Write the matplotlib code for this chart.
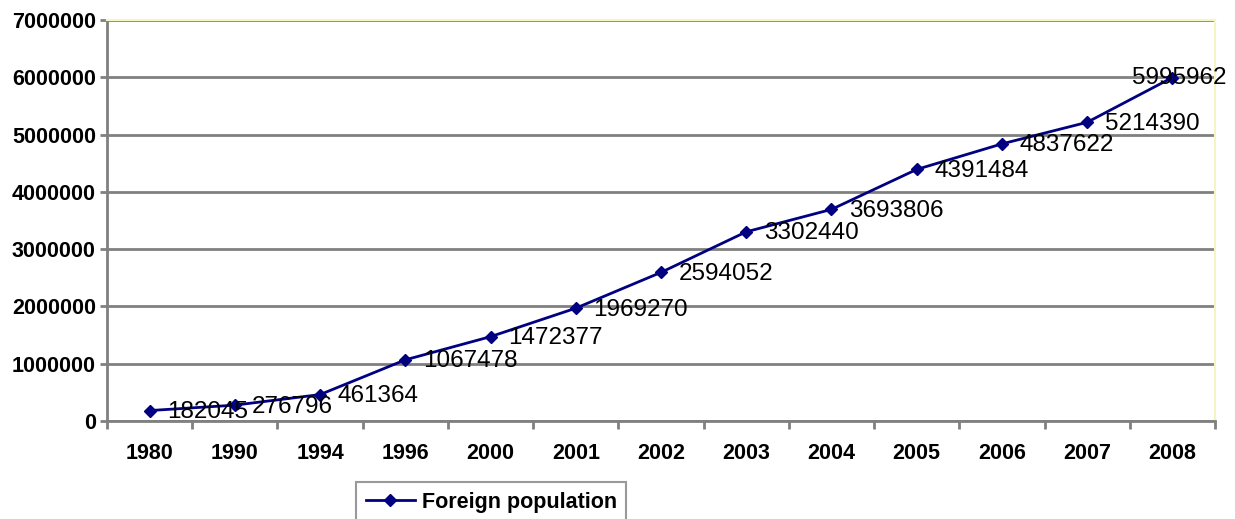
import numpy as np
import matplotlib
matplotlib.use("Agg")
import matplotlib.pyplot as plt

plt.rcParams['font.family'] = ['Liberation Sans', 'DejaVu Sans']

years = ['1980', '1990', '1994', '1996', '2000', '2001', '2002',
         '2003', '2004', '2005', '2006', '2007', '2008']
foreign = [182045, 276796, 461364, 1067478, 1472377, 1969270, 2594052,
           3302440, 3693806, 4391484, 4837622, 5214390, 5995962]

fig = plt.figure(figsize=(12.35, 5.19), dpi=100)
ax = fig.add_axes([107/1235, 1 - 421/519, (1215 - 107)/1235, (421 - 20)/519])

x = np.arange(len(years))
ax.plot(x, foreign, color='#000080', lw=2, marker='D', ms=6,
        label='Foreign population', zorder=3)

for i, v in enumerate(foreign):
    if i == len(foreign) - 1:
        ax.annotate(str(v), (i, v), xytext=(-29, 0), textcoords='offset points',
                    fontsize=17.5, va='center', ha='left')
    else:
        ax.annotate(str(v), (i, v), xytext=(12.5, -1), textcoords='offset points',
                    fontsize=17.5, va='center', ha='left')

ax.set_xlim(-0.5, len(years) - 0.5)
ax.set_ylim(0, 7000000)
ax.set_yticks(np.arange(0, 7000001, 1000000))
ax.set_yticklabels([str(t) for t in range(0, 7000001, 1000000)],
                   fontsize=15.5, fontweight='bold')
ax.set_xticks(x)
ax.set_xticklabels(years, fontsize=15.5, fontweight='bold')
ax.set_xticks(np.arange(-0.5, len(years)), minor=True)
ax.tick_params(axis='x', which='major', length=0, pad=16)
ax.tick_params(axis='x', which='minor', length=6, width=2, color='#808080')
ax.tick_params(axis='y', length=5, width=2, color='#808080', pad=3)

ax.grid(axis='y', color='#808080', lw=2)
ax.set_axisbelow(True)
for s in ['left', 'bottom']:
    ax.spines[s].set_color('#808080')
    ax.spines[s].set_linewidth(2)
for s in ['top', 'right']:
    ax.spines[s].set_color('#f5f5c0')
    ax.spines[s].set_linewidth(1.5)

leg = fig.legend(loc='upper left', bbox_to_anchor=(356/1235, 1 - 482/519),
                 frameon=True, fancybox=False, edgecolor='#808080',
                 prop={'size': 15.5, 'weight': 'bold'}, handlelength=2.3,
                 handletextpad=0.3, borderpad=0.45, borderaxespad=0)
leg.get_frame().set_linewidth(1.5)

fig.savefig('out.png', dpi=100)
